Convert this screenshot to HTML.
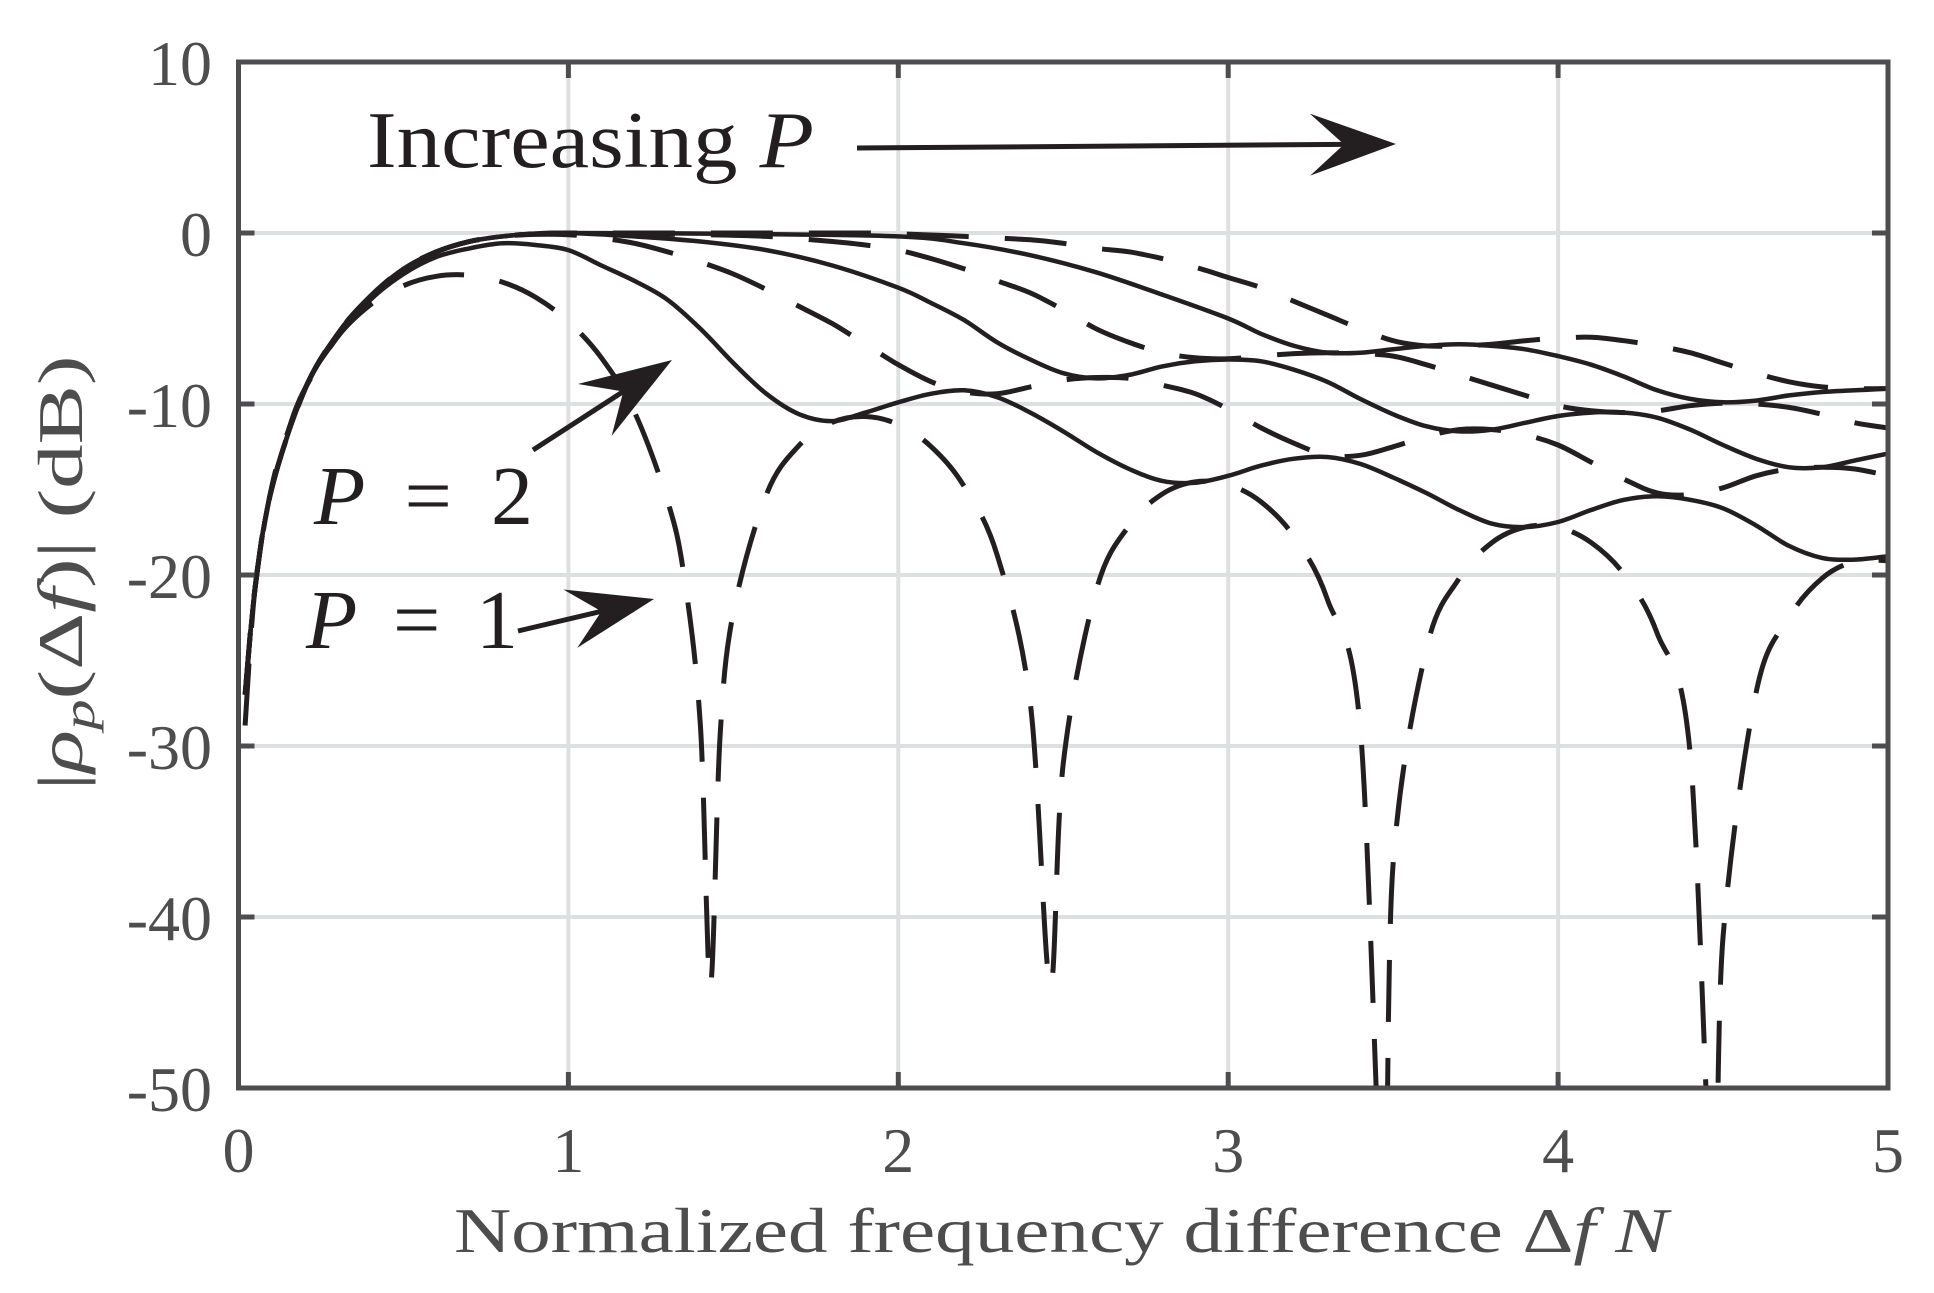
<!DOCTYPE html>
<html><head><meta charset="utf-8"><style>
html,body{margin:0;padding:0;background:#fff;}
svg{display:block;}
text{font-family:"Liberation Serif","DejaVu Serif",serif;}
</style></head><body>
<svg id="chart" width="1934" height="1293" viewBox="0 0 1934 1293" xmlns="http://www.w3.org/2000/svg">
<defs><clipPath id="plotclip"><rect x="238.5" y="62" width="1649.5" height="1026"/></clipPath></defs>
<g id="grid"></g>
<g id="series" clip-path="url(#plotclip)"></g>
<rect x="238.5" y="62" width="1649.5" height="1026" fill="none" stroke="#4d4d4f" stroke-width="5"/>
<g id="ticks"></g>
<text x="1061" y="1252" font-size="64" fill="#4d4d4d" text-anchor="middle" textLength="1214" lengthAdjust="spacingAndGlyphs">Normalized frequency difference Δ<tspan font-style="italic">f N</tspan></text>
<text transform="translate(82,573) rotate(-90)" font-size="64" fill="#4d4d4d" text-anchor="middle" textLength="435" lengthAdjust="spacingAndGlyphs">|<tspan font-style="italic">ρ</tspan><tspan font-style="italic" font-size="44" dy="12">p</tspan><tspan dy="-12">(Δ</tspan><tspan font-style="italic">f</tspan>)| (dB)</text>
<text x="367" y="167" font-size="80" fill="#231f20" textLength="447" lengthAdjust="spacingAndGlyphs">Increasing <tspan font-style="italic">P</tspan></text>
<text x="314" y="524" font-size="84" fill="#231f20" textLength="219" lengthAdjust="spacing"><tspan font-style="italic">P</tspan> = 2</text>
<text x="306" y="648" font-size="84" fill="#231f20" textLength="212" lengthAdjust="spacing"><tspan font-style="italic">P</tspan> = 1</text>
<g id="arrows"></g>
</svg>
<script>
const xTicks=[0,1,2,3,4,5];
const yTicks=[10,0,-10,-20,-30,-40,-50];
const p1x=[0.02,0.05,0.1,0.15,0.2,0.3,0.4,0.5,0.6,0.7,0.8,0.9,1.0,1.1,1.2,1.3,1.35,1.4,1.43,1.46,1.5,1.6,1.7,1.8,1.9,2.0,2.1,2.2,2.3,2.4,2.46,2.5,2.6,2.7,2.8,2.9,3.0,3.1,3.2,3.3,3.4,3.47,3.5,3.6,3.7,3.8,3.9,4.0,4.1,4.2,4.3,4.4,4.47,4.5,4.6,4.7,4.8,4.9,5.0];
const p1y=[-28.8,-20.8,-14.9,-11.6,-9.16,-6.07,-4.19,-3.08,-2.53,-2.47,-2.87,-3.75,-5.18,-7.3,-10.46,-15.64,-20.0,-28.8,-44,-29.3,-22.2,-15.31,-12.41,-11.07,-10.73,-11.2,-12.5,-14.83,-18.86,-27.5,-44,-31.0,-20.9,-17.1,-15.27,-14.55,-14.72,-15.73,-17.77,-21.4,-28.9,-58,-36.9,-24.4,-20.2,-18.1,-17.2,-17.2,-18.1,-19.97,-23.4,-30.4,-58,-41.2,-26.9,-22.5,-20.2,-19.2,-19.16];
const headX=[0.02,0.05,0.1,0.2,0.3,0.4,0.5,0.6,0.7,0.8,0.9];
const p2x=headX.concat([1.0,1.1,1.2,1.3,1.4,1.5,1.6,1.7,1.8,1.9,2.0,2.1,2.2,2.3,2.4,2.5,2.6,2.7,2.8,2.9,3.0,3.1,3.2,3.3,3.4,3.5,3.6,3.7,3.8,3.9,4.0,4.1,4.2,4.3,4.4,4.5,4.6,4.7,4.8,4.9,5.0]);
const p2y=[-27,-20.8,-15,-9.2,-6.1,-3.9,-2.4,-1.4,-0.9,-0.6,-0.7,-1.0,-1.9,-2.8,-3.9,-5.6,-7.6,-9.4,-10.6,-11.0,-10.5,-9.9,-9.4,-9.2,-9.6,-10.5,-11.6,-12.8,-13.8,-14.5,-14.6,-14.2,-13.6,-13.2,-13.1,-13.5,-14.3,-15.2,-16.2,-17.0,-17.2,-16.9,-16.2,-15.6,-15.4,-15.6,-16.1,-17.1,-18.3,-19.0,-19.1,-18.9];
const p3x=headX.concat([1.0,1.1,1.2,1.3,1.4,1.5,1.6,1.7,1.8,1.9,2.0,2.1,2.2,2.3,2.4,2.5,2.6,2.7,2.8,2.9,3.0,3.1,3.2,3.3,3.4,3.5,3.6,3.7,3.8,3.9,4.0,4.1,4.2,4.3,4.4,4.5,4.6,4.7,4.8,4.9,5.0]);
const p3y=[-27,-20.8,-15,-9.2,-5.9,-3.7,-2.1,-1.1,-0.5,-0.2,-0.08,-0.1,-0.3,-0.6,-1.1,-1.7,-2.4,-3.3,-4.3,-5.3,-6.5,-7.7,-8.7,-9.3,-9.4,-9.0,-8.6,-8.45,-8.5,-8.9,-9.4,-10.3,-11.4,-12.3,-13.0,-13.0,-12.5,-11.9,-11.5,-11.5,-11.8,-12.4,-13.4,-14.4,-15.2,-15.3,-14.9,-14.2,-13.8,-13.7,-13.8,-14.2];
const p4x=headX.concat([1.0,1.2,1.4,1.6,1.8,2.0,2.1,2.2,2.3,2.4,2.5,2.6,2.7,2.8,2.9,3.0,3.1,3.2,3.3,3.4,3.5,3.6,3.7,3.8,3.9,4.0,4.1,4.2,4.3,4.4,4.5,4.6,4.7,4.8,4.9,5.0]);
const p4y=[-27,-20.8,-15,-9.2,-5.9,-3.7,-2.1,-1.1,-0.5,-0.2,-0.05,0,-0.2,-0.5,-1.0,-1.9,-3.2,-4.1,-5.1,-6.4,-7.4,-8.2,-8.5,-8.3,-7.8,-7.5,-7.4,-7.5,-8.0,-8.7,-9.7,-10.6,-11.3,-11.6,-11.5,-11.1,-10.7,-10.5,-10.5,-10.8,-11.5,-12.4,-13.2,-13.7,-13.7,-13.3,-12.9];
const p5x=headX.concat([1.0,1.2,1.4,1.6,1.8,1.9,2.0,2.1,2.2,2.3,2.4,2.5,2.6,2.7,2.8,2.9,3.0,3.1,3.2,3.3,3.4,3.5,3.6,3.7,3.8,3.9,4.0,4.1,4.2,4.3,4.4,4.5,4.6,4.7,4.8,4.9,5.0]);
const p5y=[-27,-20.8,-15,-9.2,-5.9,-3.7,-2.1,-1.1,-0.5,-0.2,-0.05,0,-0.05,-0.1,-0.2,-0.5,-0.7,-1.0,-1.5,-2.1,-2.8,-3.5,-4.5,-5.6,-6.4,-7.0,-7.3,-7.35,-7.2,-7.05,-7.0,-7.05,-7.2,-7.7,-8.3,-8.9,-9.5,-10.1,-10.4,-10.5,-10.4,-10.1,-9.95,-10.0,-10.2,-10.6,-11.1,-11.4];
const p6x=headX.concat([1.0,1.5,2.0,2.2,2.4,2.6,2.8,3.0,3.1,3.2,3.3,3.4,3.5,3.6,3.7,3.8,3.9,4.0,4.1,4.2,4.3,4.4,4.5,4.6,4.7,4.8,4.9,5.0]);
const p6y=[-27,-20.8,-15,-9.2,-5.9,-3.7,-2.1,-1.1,-0.5,-0.2,-0.05,0,-0.05,-0.2,-0.6,-1.3,-2.3,-3.6,-5.0,-5.9,-6.6,-7.0,-7.0,-6.8,-6.6,-6.5,-6.6,-6.8,-7.2,-7.7,-8.4,-9.2,-9.7,-9.9,-9.8,-9.5,-9.3,-9.2,-9.1];
const p7x=headX.concat([1.0,1.5,1.9,2.0,2.2,2.4,2.5,2.6,2.7,2.8,2.9,3.0,3.1,3.2,3.3,3.4,3.5,3.6,3.7,3.8,3.9,4.0,4.1,4.2,4.3,4.4,4.5,4.6,4.7,4.8,4.9,5.0]);
const p7y=[-27,-20.8,-15,-9.2,-5.9,-3.7,-2.1,-1.1,-0.5,-0.2,-0.05,0,0,0,-0.05,-0.2,-0.4,-0.6,-0.9,-1.1,-1.5,-2.0,-2.6,-3.2,-4.0,-4.8,-5.6,-6.3,-6.6,-6.6,-6.5,-6.3,-6.15,-6.1,-6.3,-6.6,-7.0,-7.6,-8.2,-8.7,-9.0,-9.1,-9.1];

const NS='http://www.w3.org/2000/svg';
const X0=238.5,X1=1888,Y0=62,Y1=1088;
function sx(v){return X0+(v-0)/(5-0)*(X1-X0);}
function sy(v){return Y0+(10-v)/(10-(-50))*(Y1-Y0);}
function mk(tag,attrs,parent){const e=document.createElementNS(NS,tag);for(const k in attrs)e.setAttribute(k,attrs[k]);parent.appendChild(e);return e;}

const grid=document.getElementById('grid');
const ticks=document.getElementById('ticks');
xTicks.forEach(function(t){
  if(t>0&&t<5){
    const g=mk('line',{x1:sx(t),x2:sx(t),y1:Y0,y2:Y1,stroke:'#dedfe0','stroke-width':4},grid);
    
    
  }
  const tk1=mk('line',{x1:sx(t),x2:sx(t),y1:Y1,y2:Y1-16,stroke:'#4d4d4f','stroke-width':5},ticks);
  
  
  const tk2=mk('line',{x1:sx(t),x2:sx(t),y1:Y0,y2:Y0+16,stroke:'#4d4d4f','stroke-width':5},ticks);
  
  
  const lb=mk('text',{x:sx(t),y:1172,'font-size':64,fill:'#4d4d4d','text-anchor':'middle'},ticks);
  lb.textContent=String(t);
  
  
});
yTicks.forEach(function(t){
  if(t<10&&t>-50){
    const g=mk('line',{x1:X0,x2:X1,y1:sy(t),y2:sy(t),stroke:'#dedfe0','stroke-width':4},grid);
    
    
  }
  const tk1=mk('line',{x1:X0,x2:X0+16,y1:sy(t),y2:sy(t),stroke:'#4d4d4f','stroke-width':5},ticks);
  
  
  const tk2=mk('line',{x1:X1,x2:X1-16,y1:sy(t),y2:sy(t),stroke:'#4d4d4f','stroke-width':5},ticks);
  
  
  const lb=mk('text',{x:212,y:sy(t)+23,'font-size':64,fill:'#4d4d4d','text-anchor':'end'},ticks);
  lb.textContent=String(t);
  
  
});

function smoothPath(xs,ys){
  const p=xs.map(function(x,i){return [sx(x),sy(ys[i])];});
  let d='M'+p[0][0].toFixed(1)+','+p[0][1].toFixed(1);
  for(let i=0;i<p.length-1;i++){
    const a=p[Math.max(0,i-1)],b=p[i],c=p[i+1],e=p[Math.min(p.length-1,i+2)];
    const c1=[b[0]+(c[0]-a[0])/6,b[1]+(c[1]-a[1])/6];
    const c2=[c[0]-(e[0]-b[0])/6,c[1]-(e[1]-b[1])/6];
    d+='C'+c1[0].toFixed(1)+','+c1[1].toFixed(1)+' '+c2[0].toFixed(1)+','+c2[1].toFixed(1)+' '+c[0].toFixed(1)+','+c[1].toFixed(1);
  }
  return d;
}
const series=document.getElementById('series');
const lines=[
 {x:p1x,y:p1y,dash:true,name:'line-p1'},
 {x:p2x,y:p2y,dash:false,name:'line-p2'},
 {x:p3x,y:p3y,dash:true,name:'line-p3'},
 {x:p4x,y:p4y,dash:false,name:'line-p4'},
 {x:p5x,y:p5y,dash:true,name:'line-p5'},
 {x:p6x,y:p6y,dash:false,name:'line-p6'},
 {x:p7x,y:p7y,dash:true,name:'line-p7'}
];
lines.forEach(function(s){
  const attrs={d:smoothPath(s.x,s.y),fill:'none',stroke:'#231f20','stroke-width':s.dash?5:4.5,'stroke-linejoin':'round'};
  if(s.dash)attrs['stroke-dasharray']='62 36';
  const el=mk('path',attrs,series);
  
  
});

const arrows=document.getElementById('arrows');
function arrow(x1,y1,x2,y2,L,W,N,name){
  const dx=x2-x1,dy=y2-y1,len=Math.hypot(dx,dy),ux=dx/len,uy=dy/len,nx=-uy,ny=ux;
  const bx=x2-ux*L,by=y2-uy*L,kx=x2-ux*N,ky=y2-uy*N;
  const ln=mk('line',{x1:x1,y1:y1,x2:kx,y2:ky,stroke:'#231f20','stroke-width':5},arrows);
  
  
  const pts=[[x2,y2],[bx+nx*W,by+ny*W],[kx,ky],[bx-nx*W,by-ny*W]].map(function(q){return q[0].toFixed(1)+','+q[1].toFixed(1);}).join(' ');
  const hd=mk('polygon',{points:pts,fill:'#231f20'},arrows);
  
  
}
arrow(857,148,1396,144,86,31,52,'increasing-p-arrow');
arrow(533,450,672,360,92,31,58,'p2-arrow');
arrow(518,631,654,599,86,30,54,'p1-arrow');
</script>
</body></html>
